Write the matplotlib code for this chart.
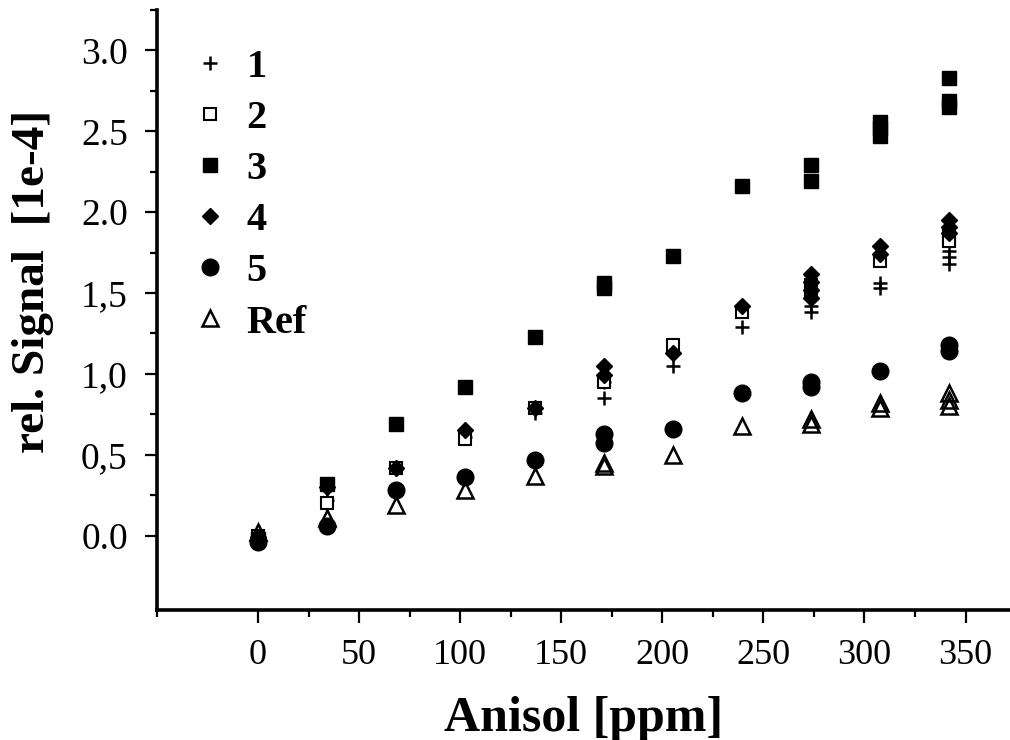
import matplotlib
matplotlib.use("Agg")
import matplotlib.pyplot as plt
from matplotlib.ticker import FixedLocator, FixedFormatter

# ---- data ----
x1 = [0, 34.2, 68.4, 102.6, 136.8, 171, 171, 205.2, 239.4, 273.6, 273.6, 307.8, 307.8, 342, 342, 342]
y1 = [0.0, 0.22, 0.41, 0.61, 0.76, 0.95, 0.85, 1.05, 1.29, 1.42, 1.38, 1.56, 1.53, 1.76, 1.72, 1.68]

x2 = [0, 34.2, 68.4, 102.6, 136.8, 171, 205.2, 239.4, 273.6, 273.6, 307.8, 342, 342]
y2 = [0.0, 0.20, 0.42, 0.60, 0.79, 0.95, 1.18, 1.38, 1.55, 1.50, 1.70, 1.85, 1.82]

x3 = [0, 34.2, 68.4, 102.6, 136.8, 171, 171, 205.2, 239.4, 273.6, 273.6, 307.8, 307.8, 307.8, 342, 342, 342]
y3 = [-0.02, 0.32, 0.69, 0.92, 1.23, 1.56, 1.53, 1.73, 2.16, 2.29, 2.19, 2.56, 2.52, 2.47, 2.83, 2.69, 2.65]

x4 = [0, 34.2, 68.4, 102.6, 136.8, 171, 171, 205.2, 239.4, 273.6, 273.6, 273.6, 273.6, 307.8, 307.8, 342, 342, 342]
y4 = [-0.01, 0.30, 0.42, 0.65, 0.79, 1.05, 0.99, 1.13, 1.42, 1.62, 1.57, 1.52, 1.47, 1.79, 1.74, 1.95, 1.91, 1.87]

x5 = [0, 34.2, 68.4, 102.6, 136.8, 171, 171, 205.2, 239.4, 273.6, 273.6, 307.8, 342, 342]
y5 = [-0.04, 0.06, 0.28, 0.36, 0.47, 0.63, 0.57, 0.66, 0.88, 0.95, 0.92, 1.02, 1.18, 1.14]

xr = [0, 34.2, 68.4, 102.6, 136.8, 171, 171, 205.2, 239.4, 273.6, 273.6, 307.8, 307.8, 342, 342, 342]
yr = [0.02, 0.11, 0.19, 0.28, 0.37, 0.45, 0.43, 0.50, 0.68, 0.72, 0.69, 0.82, 0.79, 0.88, 0.84, 0.80]

labels = ["1", "2", "3", "4", "5", "Ref"]
xticks = [0, 50, 100, 150, 200, 250, 300, 350]
yticks = [0.0, 0.5, 1.0, 1.5, 2.0, 2.5, 3.0]
ytick_labels = ["0.0", "0,5", "1,0", "1,5", "2.0", "2.5", "3.0"]

serif = ["Liberation Serif", "DejaVu Serif"]

fig = plt.figure(figsize=(10.1, 7.4), dpi=100)
ax = fig.add_axes([157 / 1010, 1 - 610 / 740, 1 - 157 / 1010, 600 / 740])

ax.plot(x1, y1, ls="none", marker="+", ms=10, mew=1.8, color="black", label=labels[0])
ax.plot(x2, y2, ls="none", marker="s", ms=9, mew=1.5, mfc="white", mec="black", label=labels[1])
ax.plot(x3, y3, ls="none", marker="s", ms=10.5, color="black", label=labels[2])
ax.plot(x4, y4, ls="none", marker="D", ms=8.5, color="black", label=labels[3])
ax.plot(x5, y5, ls="none", marker="o", ms=12, color="black", label=labels[4])
ax.plot(xr, yr, ls="none", marker="^", ms=12, mew=1.8, mfc="none", mec="black", label=labels[5])

ax.set_xlim(-50, 372)
ax.set_ylim(-0.46, 3.25)

for s in ["top", "right"]:
    ax.spines[s].set_visible(False)
for s in ["left", "bottom"]:
    ax.spines[s].set_linewidth(2.6)

ax.xaxis.set_major_locator(FixedLocator(xticks))
ax.xaxis.set_minor_locator(FixedLocator([-50, 25, 75, 125, 175, 225, 275, 325]))
ax.yaxis.set_major_locator(FixedLocator(yticks))
ax.yaxis.set_major_formatter(FixedFormatter(ytick_labels))
ax.yaxis.set_minor_locator(FixedLocator([0.25, 0.75, 1.25, 1.75, 2.25, 2.75, 3.25]))

ax.tick_params(which="major", direction="out", length=9, width=1.6, labelsize=26, pad=12)
ax.tick_params(axis="y", which="major", labelsize=27)
ax.tick_params(which="minor", direction="out", length=5, width=1.6)
for t in ax.get_xticklabels() + ax.get_yticklabels():
    t.set_fontfamily(serif)

ax.set_xlabel("Anisol [ppm]", fontsize=36, fontweight="bold", family=serif, labelpad=17)
ax.set_ylabel("rel. Signal  [1e-4]", fontsize=34, fontweight="bold", family=serif)
ax.yaxis.set_label_coords(-0.121, 0.548)

leg = ax.legend(loc="upper left", bbox_to_anchor=(0.02, 0.962), frameon=False,
                prop={"family": serif, "weight": "bold", "size": 29},
                handlelength=1.0, handletextpad=0.4, labelspacing=0.345,
                borderaxespad=0.0)

fig.savefig("out.png", dpi=100)
